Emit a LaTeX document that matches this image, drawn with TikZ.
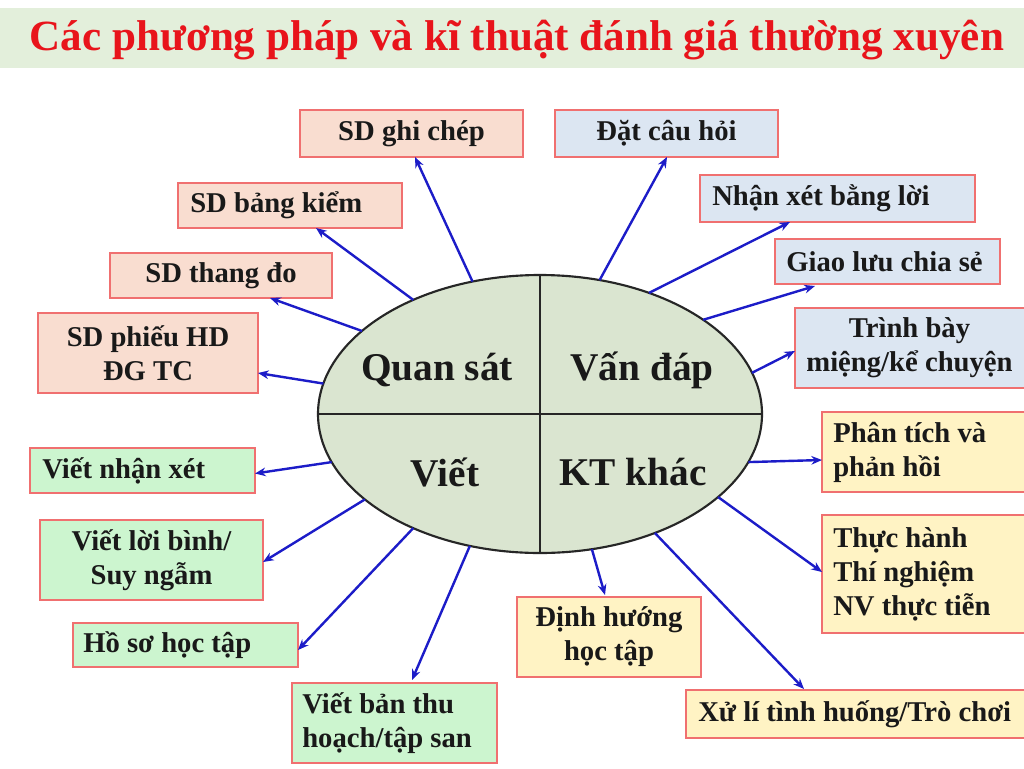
\documentclass[tikz,border=0pt]{standalone}
\usepackage{fontspec}
\setmainfont{Liberation Serif}
\usetikzlibrary{shapes.geometric,arrows.meta,calc}
\definecolor{pinkf}{HTML}{F9DDD0}
\definecolor{bluef}{HTML}{DCE6F2}
\definecolor{greenf}{HTML}{CCF5CF}
\definecolor{yellowf}{HTML}{FFF3C4}
\definecolor{ellf}{HTML}{DAE5D0}
\definecolor{bandc}{HTML}{E3EFDB}
\definecolor{titlec}{HTML}{E8141B}
\definecolor{arrc}{HTML}{1C1CC8}
\definecolor{bordc}{HTML}{F07070}
\begin{document}
\begin{tikzpicture}[x=0.75pt,y=-0.75pt,
  box/.style={draw=bordc, line width=1pt, inner sep=0pt, outer sep=0pt},
  tx/.style={inner sep=0pt, font=\bfseries\fontsize{21.5}{25.5}\selectfont, text=black!90},
  lab/.style={inner sep=0pt, font=\bfseries\fontsize{29.5}{32}\selectfont, text=black!90},
  arr/.style={draw=arrc, line width=1.8pt, -{Stealth[length=8pt,width=6.5pt]}}]
\useasboundingbox (0,0) rectangle (1024,768);
\fill[white] (0,0) rectangle (1024,768);
% title band
\fill[bandc] (0,8) rectangle (1024,68);
\node[inner sep=0pt, font=\bfseries\fontsize{32.3}{36}\selectfont, text=titlec] (title) at (517,40) {Các phương pháp và kĩ thuật đánh giá thường xuyên};
% ellipse
\node[ellipse, draw=black!85, line width=1.6pt, fill=ellf, minimum width=333pt, minimum height=208.5pt, inner sep=0pt, outer sep=0pt] (E) at (540,414) {};
\draw[black!85, line width=1.6pt] (E.north) -- (E.south);
\draw[black!85, line width=1.6pt] (E.west) -- (E.east);
\node[lab] (qs) at (437,370) {Quan sát};
\node[lab] (vd) at (642,370) {Vấn đáp};
\node[lab] (vi) at (445,472) {Viết};
\node[lab] (kt) at (633,472) {KT khác};
% pink boxes
\node[box, fill=pinkf, minimum width=167.25pt, minimum height=35.25pt] (gc) at (411.5,133.5) {};
\node[tx] (gct) at (gc.center) {SD ghi chép};
\node[box, fill=pinkf, minimum width=168pt, minimum height=33.75pt] (bk) at (290,205.5) {};
\node[tx, anchor=west] (bkt) at ($(bk.west)+(12,0)$) {SD bảng kiểm};
\node[box, fill=pinkf, minimum width=166.5pt, minimum height=33.75pt] (td) at (221,275.5) {};
\node[tx] (tdt) at (td.center) {SD thang đo};
\node[box, fill=pinkf, minimum width=165pt, minimum height=60pt] (ph) at (148,353) {};
\node[tx, align=center] (pht) at (ph.center) {SD phiếu HD\\ĐG TC};
% blue boxes
\node[box, fill=bluef, minimum width=167.25pt, minimum height=35.25pt] (dc) at (666.5,133.5) {};
\node[tx] (dct) at (dc.center) {Đặt câu hỏi};
\node[box, fill=bluef, minimum width=206.25pt, minimum height=35.25pt] (nx) at (837.5,198.5) {};
\node[tx, anchor=west] (nxt) at ($(nx.west)+(12,0)$) {Nhận xét bằng lời};
\node[box, fill=bluef, minimum width=168.75pt, minimum height=33.75pt] (gl) at (887.5,261.5) {};
\node[tx, anchor=west] (glt) at ($(gl.west)+(11,0)$) {Giao lưu chia sẻ};
\node[box, fill=bluef, minimum width=176.25pt, minimum height=60pt] (tb) at (912.5,348) {};
\node[tx, align=center] (tbt) at (909.5,348) {Trình bày\\miệng/kể chuyện};
% green boxes
\node[box, fill=greenf, minimum width=168.75pt, minimum height=33.75pt] (vn) at (142.5,470.5) {};
\node[tx, anchor=west] (vnt) at ($(vn.west)+(12,0)$) {Viết nhận xét};
\node[box, fill=greenf, minimum width=167.25pt, minimum height=60pt] (vb) at (151.5,560) {};
\node[tx, align=center] (vbt) at (vb.center) {Viết lời bình/\\Suy ngẫm};
\node[box, fill=greenf, minimum width=168.75pt, minimum height=33pt] (hs) at (185.5,645) {};
\node[tx, anchor=west] (hst) at ($(hs.west)+(10,0)$) {Hồ sơ học tập};
\node[box, fill=greenf, minimum width=153.75pt, minimum height=60pt] (vt) at (394.5,723) {};
\node[tx, anchor=west, align=left] (vtt) at ($(vt.west)+(10,0)$) {Viết bản thu\\hoạch/tập san};
% yellow boxes
\node[box, fill=yellowf, minimum width=156pt, minimum height=60pt] (pt) at (926,452) {};
\node[tx, anchor=west, align=left] (ptt) at ($(pt.west)+(11,0)$) {Phân tích và\\phản hồi};
\node[box, fill=yellowf, minimum width=156pt, minimum height=88.5pt] (th) at (926,574) {};
\node[tx, anchor=west, align=left] (tht) at ($(th.west)+(11,0)$) {Thực hành\\Thí nghiệm\\NV thực tiễn};
\node[box, fill=yellowf, minimum width=138pt, minimum height=60pt] (dh) at (609,637) {};
\node[tx, align=center] (dht) at (dh.center) {Định hướng\\học tập};
\node[box, fill=yellowf, minimum width=258pt, minimum height=36pt] (xl) at (858,714) {};
\node[tx, anchor=west] (xlt) at ($(xl.west)+(12,0)$) {Xử lí tình huống/Trò chơi};
% arrows
\draw[arr] (E.117.9) -- ($(gc.south west)+(115,0)$);
\draw[arr] (E.138.8) -- ($(bk.south west)+(138,0)$);
\draw[arr] (E.155.9) -- ($(td.south west)+(160,0)$);
\draw[arr] (E.172.2) -- ($(ph.east)+(0,20)$);
\draw[arr] (E.66.9) -- ($(dc.south west)+(112,0)$);
\draw[arr] (E.48.0) -- ($(nx.south west)+(90,0)$);
\draw[arr] (E.30.2) -- ($(gl.south west)+(40,2)$);
\draw[arr] (E.11.2) -- ($(tb.west)+(0,3)$);
\draw[arr] (E.193.9) -- ($(vn.east)+(0,3)$);
\draw[arr] (E.206.3) -- ($(vb.east)+(0,2)$);
\draw[arr] (E.222.7) -- ($(hs.east)+(0,5)$);
\draw[arr] (E.242.4) -- ($(vt.north west)+(120,-3)$);
\draw[arr] (E.347.9) -- ($(pt.west)+(0,8)$);
\draw[arr] (E.335.8) -- ($(th.west)+(0,-2)$);
\draw[arr] (E.291.9) -- ($(dh.north west)+(88,-2)$);
\draw[arr] (E.314.3) -- ($(xl.north west)+(118,-1)$);
\end{tikzpicture}
\end{document}
